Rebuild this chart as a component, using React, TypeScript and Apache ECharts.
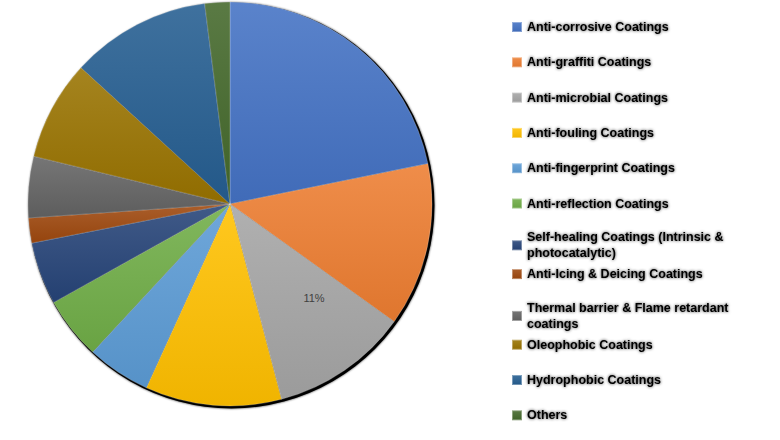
import React, { useEffect, useRef } from 'react';
import * as echarts from 'echarts';

// Segment names (legend order == slice order, clockwise from 12 o'clock)
const segments = [
  'Anti-corrosive Coatings',
  'Anti-graffiti Coatings',
  'Anti-microbial Coatings',
  'Anti-fouling Coatings',
  'Anti-fingerprint Coatings',
  'Anti-reflection Coatings',
  'Self-healing Coatings (Intrinsic & photocatalytic)',
  'Anti-Icing & Deicing Coatings',
  'Thermal barrier & Flame retardant coatings',
  'Oleophobic Coatings',
  'Hydrophobic Coatings',
  'Others',
];

// Share in %
const shares = [21.8, 13.1, 11, 10.9, 5.1, 5, 5, 2, 4.9, 8, 11.2, 2];

// Only this slice carries a data label in the original
const labelledSegment = 'Anti-microbial Coatings';

const palette = [
  '#4472C4', '#ED7D31', '#A5A5A5', '#FFC000', '#5B9BD5', '#70AD47',
  '#264478', '#9E480E', '#636363', '#997300', '#255E91', '#43682B',
];

// legend texts that wrap onto a second line
const wrapped: Record<string, string> = {
  'Self-healing Coatings (Intrinsic & photocatalytic)': 'Self-healing Coatings (Intrinsic &\nphotocatalytic)',
  'Thermal barrier & Flame retardant coatings': 'Thermal barrier & Flame retardant\ncoatings',
};

const shade = (hex: string, amt: number) => {
  const n = parseInt(hex.slice(1), 16);
  const ch = [(n >> 16) & 255, (n >> 8) & 255, n & 255].map((c) =>
    Math.round(amt >= 0 ? c + (255 - c) * amt : c * (1 + amt))
  );
  return `rgb(${ch[0]},${ch[1]},${ch[2]})`;
};

const App: React.FC = () => {
  const chartRef = useRef<HTMLDivElement>(null);

  useEffect(() => {
    if (!chartRef.current) return;
    const chart = echarts.init(chartRef.current, undefined, { renderer: 'svg' });

    // one legend per entry so wrapped entries keep the even spacing
    const legends = segments.map((name, i) => ({
      orient: 'vertical',
      left: 511,
      top: 19 + i * 35.3,
      padding: 0,
      data: [name],
      icon: 'rect',
      itemWidth: 10,
      itemHeight: 10,
      selectedMode: false,
      formatter: (n: string) => wrapped[n] || n,
      textStyle: {
        fontFamily: 'Liberation Sans, Arial, sans-serif',
        fontSize: 12.5,
        fontWeight: 'bold',
        color: '#000',
        lineHeight: 16,
        height: 16,
        textShadowColor: 'rgba(0,0,0,0.8)',
        textShadowBlur: 3,
      },
    }));

    const option = {
      animation: false,
      backgroundColor: '#fff',
      legend: legends,
      series: [
        {
          // dark rim behind the pie
          type: 'pie',
          silent: true,
          z: 1,
          center: [231.5, 205.5],
          radius: 203,
          label: { show: false },
          labelLine: { show: false },
          itemStyle: { color: '#000', shadowBlur: 2, shadowColor: 'rgba(0,0,0,0.8)' },
          data: [{ value: 1, name: '' }],
          legendHoverLink: false,
        },
        {
          name: 'Share',
          type: 'pie',
          z: 2,
          center: [230, 204],
          radius: 202,
          startAngle: 90,
          clockwise: true,
          itemStyle: { borderColor: 'rgba(255,255,255,0.35)', borderWidth: 0.6 },
          label: { show: false },
          labelLine: { show: false },
          labelLayout: { dx: 25, dy: 8 },
          data: segments.map((name, i) => ({
            name,
            value: shares[i],
            itemStyle: {
              color: new echarts.graphic.LinearGradient(0, 0, 0, 1, [
                { offset: 0, color: shade(palette[i], 0.12) },
                { offset: 1, color: shade(palette[i], -0.06) },
              ]),
            },
            label:
              name === labelledSegment
                ? {
                    show: true,
                    position: 'inside',
                    formatter: (p: any) => `${Math.round(p.percent)}%`,
                    fontFamily: 'Liberation Sans, Arial, sans-serif',
                    fontSize: 11,
                    color: '#404040',
                  }
                : { show: false },
          })),
        },
      ],
    };

    chart.setOption(option as any);
    return () => chart.dispose();
  }, []);

  return (
    <div
      ref={chartRef}
      style={{ position: 'fixed', left: 0, top: 0, width: 780, height: 440 }}
    />
  );
};

export default App;
